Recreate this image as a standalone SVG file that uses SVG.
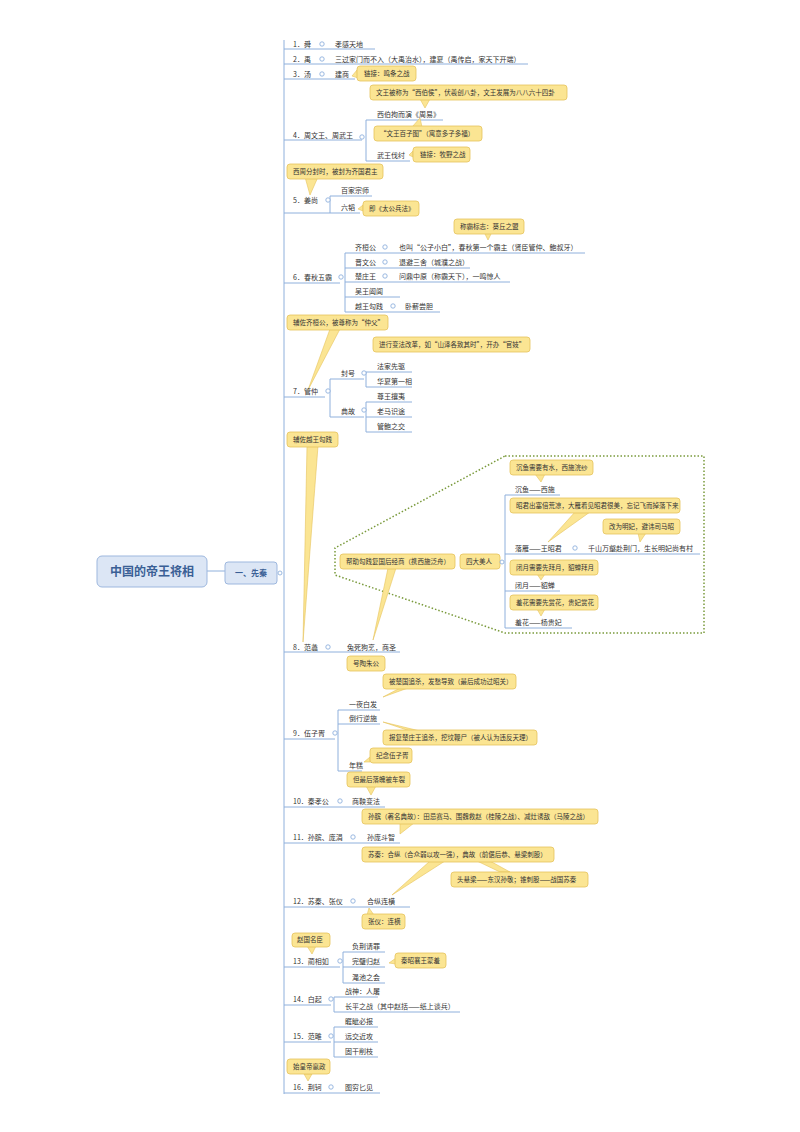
<svg xmlns="http://www.w3.org/2000/svg" width="800" height="1132" viewBox="0 0 800 1132">
<style>
text{font-family:"Noto Sans CJK SC","Noto Sans",sans-serif;font-size:7px;fill:#333}
.ul{stroke:#8fb0dc;stroke-width:1;fill:none}
.br{stroke:#8fb0dc;stroke-width:1;fill:none}
.c{fill:#fff;stroke:#8fb0dc;stroke-width:0.9}
.co{fill:#fbe593;stroke:#e6c35c;stroke-width:0.8}
.ptr{fill:#fbe593;stroke:#e6c35c;stroke-width:0.6}
.ct{font-size:6.5px;fill:#333}
</style>
<rect width="800" height="1132" fill="#fff"/>
<g id="connectors">
<path class="br" d="M207 571 H225"/>
<path class="br" d="M284 40 V1094"/>
<path class="ul" d="M284 49 H375 M284 64 H528 M284 79 H355 M284 140 H362 M366 120 H443 M366 161 H410 M366 120 V161 M284 213 H330 M330 196 H372 M330 213 H360 M330 196 V213 M284 283 H340 M345 253 H585 M345 268 H470 M345 282 H510 M345 297 H400 M345 312 H440 M345 253 V312"/>
<path class="ul" d="M284 397 H325 M330 379 H364 M366 372 H412 M366 387 H412 M366 372 V387 M330 417 H364 M366 402 H412 M366 417 H412 M366 432 H412 M366 402 V432 M330 379 V417"/>
<path class="ul" d="M505 495 H560 M505 554 H700 M505 591 H560 M505 628 H572 M505 495 V628"/>
<path class="ul" d="M284 652 H400 M284 739 H335 M338 710 H380 M338 724 H380 M338 771 H362 M338 710 V771 M284 807 H385 M284 843 H400 M284 907 H410"/>
<path class="ul" d="M284 967 H340 M343 952 H385 M343 967 H385 M343 983 H385 M343 952 V983 M284 1005 H331 M334 997 H378 M334 1012 H460 M334 997 V1012 M284 1042 H331 M334 1027 H378 M334 1042 H378 M334 1057 H378 M334 1027 V1057 M284 1093 H380"/>
<polygon points="505,456 704,456 704,633 505,633 335,575 335,548" fill="none" stroke="#7a9a3c" stroke-width="1.5" stroke-dasharray="1.5,2"/>
</g>
<g id="root"><rect x="97" y="556" width="110" height="31" rx="5" fill="#dce6f5" stroke="#9db7de"/><text x="152" y="576" text-anchor="middle" style="font-size:12px;font-weight:bold;fill:#3a5f95">中国的帝王将相</text></g>
<g id="xianqin"><rect x="225" y="562" width="52" height="22" rx="3" fill="#dce6f5" stroke="#9db7de"/><text x="251" y="576" text-anchor="middle" style="font-size:8px;font-weight:bold;fill:#3a5f95">一、先秦</text><circle class="c" cx="280" cy="573" r="2"/></g>

<g id="n1"><text x="293" y="47">1．舜</text><circle class="c" cx="322" cy="44" r="2.2"/><text x="335" y="47">孝感天地</text></g>
<g id="n2"><text x="293" y="62">2．禹</text><circle class="c" cx="322" cy="59" r="2.2"/><text x="335" y="62">三过家门而不入（大禹治水），建夏（禹传启，家天下开端）</text></g>
<g id="n3"><text x="293" y="77">3．汤</text><circle class="c" cx="322" cy="74" r="2.2"/><text x="335" y="77">建商</text>
<path class="ptr" d="M357 70 L352 76 L358 78Z"/><rect class="co" x="357" y="66" width="59" height="15" rx="3"/><text class="ct" x="364" y="76">链接：鸣条之战</text></g>
<g id="n4"><text x="293" y="138">4．周文王、周武王</text><circle class="c" cx="362" cy="137" r="2.2"/>
<path class="ptr" d="M420 99 L425 108 L430 99Z"/><rect class="co" x="370" y="85" width="197" height="15" rx="3"/><text class="ct" x="376" y="95">文王被称为“西伯侯”，伏羲创八卦，文王发展为八八六十四卦</text>
<text x="377" y="117">西伯拘而演《周易》</text>
<path class="ptr" d="M412 127 L420 118 L422 127Z"/><rect class="co" x="374" y="126" width="108" height="15" rx="3"/><text class="ct" x="380" y="136">“文王百子图”（寓意多子多福）</text>
<text x="377" y="158">武王伐纣</text>
<path class="ptr" d="M413 151 L409 155 L413 157Z"/><rect class="co" x="413" y="147" width="57" height="15" rx="3"/><text class="ct" x="420" y="157">链接：牧野之战</text></g>
<g id="n5"><path class="ptr" d="M305 177 L310 195 L318 177Z"/><rect class="co" x="287" y="164" width="96" height="15" rx="3"/><text class="ct" x="293" y="174">西周分封时，被封为齐国君主</text>
<text x="293" y="203">5．姜尚</text><circle class="c" cx="328" cy="200" r="2.2"/><text x="341" y="193">百家宗师</text><text x="341" y="210">六韬</text>
<path class="ptr" d="M363 205 L358 209 L363 211Z"/><rect class="co" x="363" y="201" width="56" height="15" rx="3"/><text class="ct" x="369" y="211">即《太公兵法》</text></g>
<g id="n6"><path class="ptr" d="M484 232 L488 240 L492 232Z"/><rect class="co" x="454" y="219" width="70" height="15" rx="3"/><text class="ct" x="460" y="229">称霸标志：葵丘之盟</text>
<text x="293" y="280">6．春秋五霸</text><circle class="c" cx="341" cy="277" r="2.2"/>
<text x="355" y="250">齐桓公</text><circle class="c" cx="385" cy="247" r="2.2"/><text x="399" y="250">也叫“公子小白”，春秋第一个霸主（贤臣管仲、鲍叔牙）</text>
<text x="355" y="265">晋文公</text><circle class="c" cx="385" cy="262" r="2.2"/><text x="399" y="265">退避三舍（城濮之战）</text>
<text x="355" y="279">楚庄王</text><circle class="c" cx="385" cy="276" r="2.2"/><text x="399" y="279">问鼎中原（称霸天下），一鸣惊人</text>
<text x="355" y="294">吴王阖闾</text>
<text x="355" y="309">越王勾践</text><circle class="c" cx="393" cy="306" r="2.2"/><text x="405" y="309">卧薪尝胆</text></g>
<g id="n7"><path class="ptr" d="M330 329 L308 390 L340 329Z"/><rect class="co" x="287" y="315" width="101" height="15" rx="3"/><text class="ct" x="293" y="325">辅佐齐桓公，被尊称为“仲父”</text>
<rect class="co" x="373" y="337" width="157" height="15" rx="3"/><text class="ct" x="379" y="347">进行变法改革，如“山泽各致其时”，开办“官妓”</text>
<text x="293" y="394">7．管仲</text><circle class="c" cx="328" cy="391" r="2.2"/>
<text x="341" y="376">封号</text><circle class="c" cx="364" cy="373" r="2.2"/><text x="377" y="369">法家先驱</text><text x="377" y="384">华夏第一相</text>
<text x="341" y="414">典故</text><circle class="c" cx="364" cy="410" r="2.2"/><text x="377" y="399">尊王攘夷</text><text x="377" y="414">老马识途</text><text x="377" y="429">管鲍之交</text></g>
<g id="n8"><path class="ptr" d="M307 446 L303 642 L318 446Z"/><rect class="co" x="287" y="432" width="51" height="15" rx="3"/><text class="ct" x="293" y="442">辅佐越王勾践</text>
<path class="ptr" d="M388 568 L373 640 L396 568Z"/><rect class="co" x="340" y="554" width="115" height="15" rx="3"/><text class="ct" x="346" y="564">帮助勾践复国后经商（携西施泛舟）</text>
<rect class="co" x="460" y="554" width="40" height="15" rx="3"/><text class="ct" x="466" y="564">四大美人</text><circle class="c" cx="502" cy="562" r="2"/>
<path class="ptr" d="M535 474 L541 482 L545 474Z"/><rect class="co" x="510" y="460" width="83" height="15" rx="3"/><text class="ct" x="516" y="470">沉鱼需要有水，西施浣纱</text>
<text x="515" y="492">沉鱼——西施</text>
<path class="ptr" d="M575 512 L548 542 L590 512Z"/><rect class="co" x="510" y="498" width="170" height="15" rx="3"/><text class="ct" x="516" y="508">昭君出塞倍荒凉，大雁看见昭君很美，忘记飞而掉落下来</text>
<path class="ptr" d="M638 533 L640 542 L646 533Z"/><rect class="co" x="603" y="519" width="77" height="15" rx="3"/><text class="ct" x="609" y="529">改为明妃，避讳司马昭</text>
<text x="515" y="551">落雁——王昭君</text><circle class="c" cx="575" cy="548" r="2.2"/><text x="588" y="551">千山万壑赴荆门，生长明妃尚有村</text>
<path class="ptr" d="M537 574 L541 580 L545 574Z"/><rect class="co" x="510" y="560" width="88" height="15" rx="3"/><text class="ct" x="516" y="570">闭月需要先拜月，貂蝉拜月</text>
<text x="515" y="588">闭月——貂蝉</text>
<path class="ptr" d="M537 609 L541 616 L545 609Z"/><rect class="co" x="510" y="595" width="88" height="15" rx="3"/><text class="ct" x="516" y="605">羞花需要先赏花，贵妃赏花</text>
<text x="515" y="625">羞花——杨贵妃</text>
<text x="293" y="650">8．范蠡</text><circle class="c" cx="328" cy="647" r="2.2"/><text x="347" y="650">兔死狗烹，商圣</text>
<rect class="co" x="347" y="656" width="38" height="15" rx="3"/><text class="ct" x="353" y="666">号陶朱公</text></g>
<g id="n9"><path class="ptr" d="M400 688 L383 697 L408 688Z"/><rect class="co" x="383" y="674" width="133" height="15" rx="3"/><text class="ct" x="389" y="684">被楚国追杀，发愁导致（最后成功过昭关）</text>
<text x="349" y="707">一夜白发</text><text x="349" y="721">倒行逆施</text>
<path class="ptr" d="M420 731 L383 722 L410 731Z"/><rect class="co" x="383" y="730" width="154" height="15" rx="3"/><text class="ct" x="389" y="740">报复楚庄王追杀，挖坟鞭尸（被人认为违反天理）</text>
<text x="293" y="736">9．伍子胥</text><circle class="c" cx="335" cy="733" r="2.2"/>
<path class="ptr" d="M370 757 L364 762 L370 762Z"/><rect class="co" x="370" y="748" width="42" height="15" rx="3"/><text class="ct" x="376" y="758">纪念伍子胥</text>
<text x="349" y="768">年糕</text>
<path class="ptr" d="M366 786 L371 795 L376 786Z"/><rect class="co" x="347" y="772" width="63" height="15" rx="3"/><text class="ct" x="353" y="782">但最后落魄被车裂</text></g>
<g id="n10"><text x="293" y="804">10．秦孝公</text><circle class="c" cx="340" cy="801" r="2.2"/><text x="352" y="804">商鞅变法</text></g>
<g id="n11"><path class="ptr" d="M400 823 L400 834 L414 823Z"/><rect class="co" x="362" y="809" width="236" height="15" rx="3"/><text class="ct" x="368" y="819">孙膑（著名典故）：田忌赛马、围魏救赵（桂陵之战）、减灶诱敌（马陵之战）</text>
<text x="293" y="840">11．孙膑、庞涓</text><circle class="c" cx="353" cy="837" r="2.2"/><text x="367" y="840">孙庞斗智</text></g>
<g id="n12"><path class="ptr" d="M430 861 L392 895 L445 861Z"/><path class="ptr" d="M477 861 L500 872 L510 872 L490 861Z"/><rect class="co" x="362" y="847" width="192" height="15" rx="3"/><text class="ct" x="368" y="857">苏秦：合纵（合众弱以攻一强），典故（前倨后恭、悬梁刺股）</text>
<rect class="co" x="451" y="872" width="137" height="15" rx="3"/><text class="ct" x="457" y="882">头悬梁——东汉孙敬；锥刺股——战国苏秦</text>
<text x="293" y="904">12．苏秦、张仪</text><circle class="c" cx="353" cy="901" r="2.2"/><text x="367" y="904">合纵连横</text>
<path class="ptr" d="M367 915 L369 908 L374 915Z"/><rect class="co" x="362" y="914" width="43" height="15" rx="3"/><text class="ct" x="368" y="924">张仪：连横</text></g>
<g id="n13"><path class="ptr" d="M307 946 L312 954 L316 946Z"/><rect class="co" x="292" y="933" width="38" height="14" rx="3"/><text class="ct" x="297" y="942">赵国名臣</text>
<text x="293" y="964">13．蔺相如</text><circle class="c" cx="340" cy="961" r="2.2"/>
<text x="352" y="949">负荆请罪</text><text x="352" y="964">完璧归赵</text><text x="352" y="980">渑池之会</text>
<path class="ptr" d="M396 958 L389 963 L396 964Z"/><rect class="co" x="395" y="953" width="51" height="15" rx="3"/><text class="ct" x="401" y="963">秦昭襄王蒙羞</text></g>
<g id="n14"><text x="293" y="1002">14．白起</text><circle class="c" cx="331" cy="999" r="2.2"/><text x="345" y="994">战神：人屠</text><text x="345" y="1009">长平之战（其中赵括——纸上谈兵）</text></g>
<g id="n15"><text x="293" y="1039">15．范雎</text><circle class="c" cx="331" cy="1036" r="2.2"/><text x="345" y="1024">睚眦必报</text><text x="345" y="1039">远交近攻</text><text x="345" y="1054">固干削枝</text></g>
<g id="n16"><path class="ptr" d="M304 1074 L308 1081 L312 1074Z"/><rect class="co" x="287" y="1059" width="43" height="15" rx="3"/><text class="ct" x="293" y="1069">始皇帝嬴政</text>
<text x="293" y="1090">16．荆轲</text><circle class="c" cx="331" cy="1087" r="2.2"/><text x="345" y="1090">图穷匕见</text></g>
</svg>
